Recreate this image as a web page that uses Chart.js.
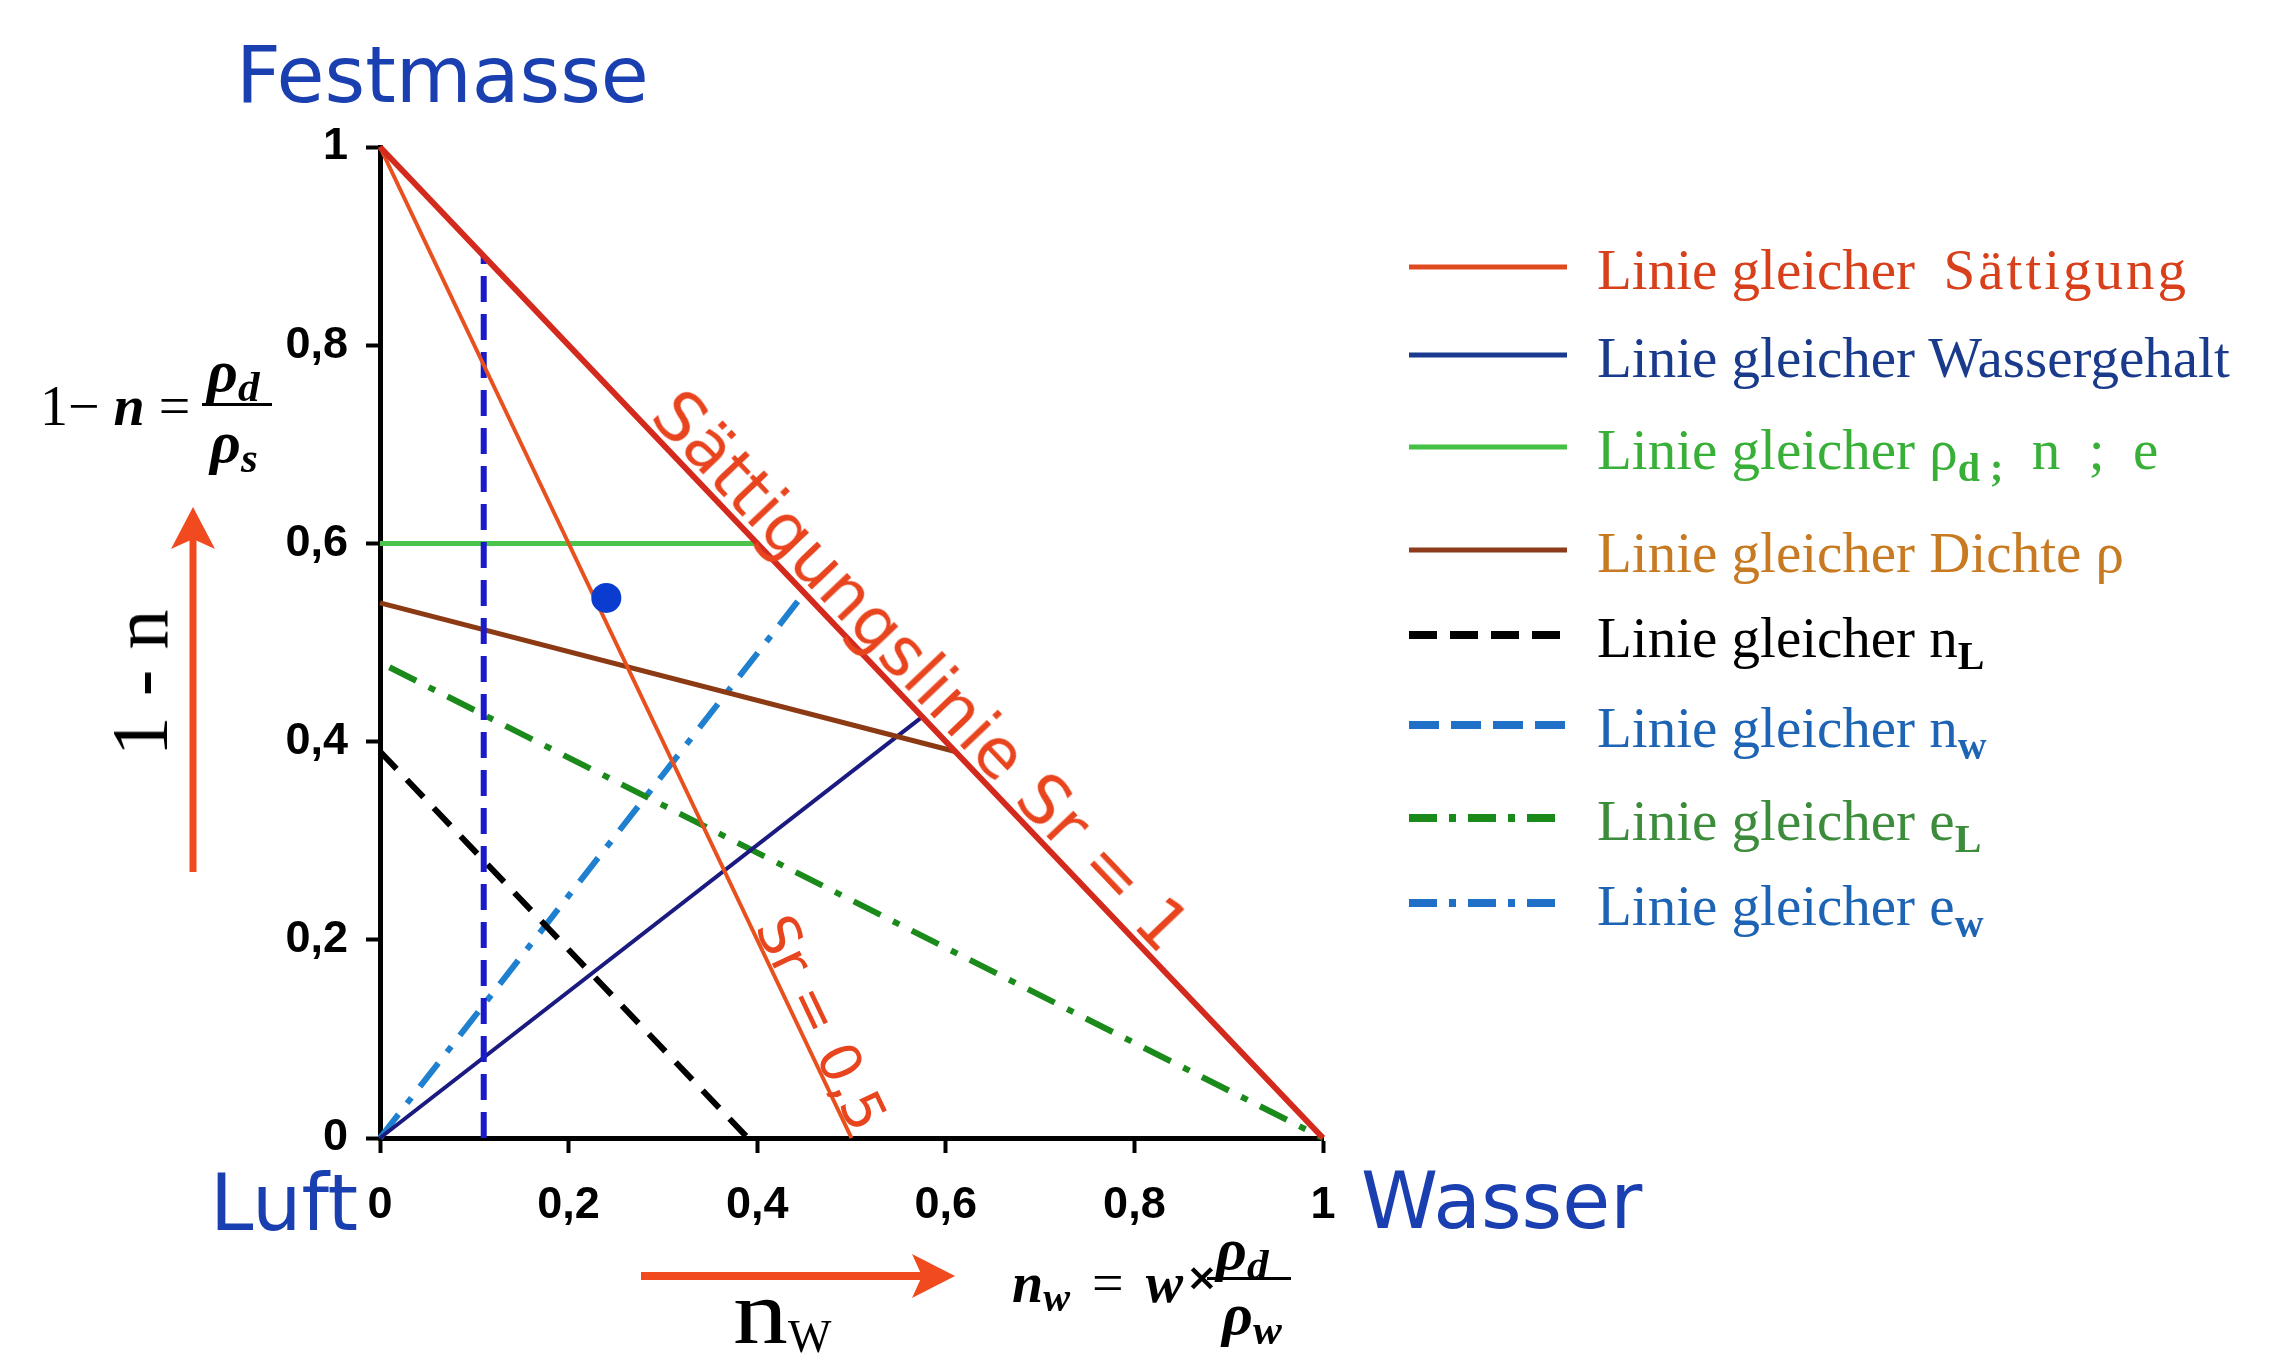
<!DOCTYPE html>
<html>
<head>
<meta charset="utf-8">
<script src="https://cdn.jsdelivr.net/npm/chart.js@4.4.0/dist/chart.umd.min.js"></script>
<style>
  html, body { margin: 0; padding: 0; background: #fff; }
  #wrap { position: relative; width: 2283px; height: 1359px; overflow: hidden; background: #fff; }
  #chart { position: absolute; left: 0; top: 0; }
  .ov { position: absolute; left: 0; top: 0; }
  .t { position: absolute; white-space: nowrap; line-height: 1; }
  .sans { font-family: 'DejaVu Sans', Verdana, sans-serif; }
  .serif { font-family: 'Liberation Serif', 'Times New Roman', serif; }
  .corner { font-size: 78px; color: #1a3fb0; }
  .math { font-size: 56px; color: #000; }
  .math i { font-weight: bold; }
  .math sub { font-size: 0.72em; vertical-align: -0.22em; line-height: 0; }
  .leg { font-size: 57px; }
  .leg sub { font-size: 0.7em; vertical-align: -0.3em; line-height: 0; font-weight: bold; }
  .wide { letter-spacing: 3px; }
  .onLine { font-family: 'DejaVu Sans', Verdana, sans-serif; color: #e8441e; }
</style>
</head>
<body>
<div id="wrap">
  <canvas id="chart" width="2283" height="1359"></canvas>

  <div class="t sans corner" style="left:236px; top:36px;">Festmasse</div>
  <div class="t sans corner" style="left:210px; top:1164px;">Luft</div>
  <div class="t sans corner" style="left:1361px; top:1162px;">Wasser</div>

  <!-- y formula -->
  <div class="t serif math" style="left:40px; top:378px;">1− <i>n</i> = </div>
  <div class="t serif math" style="left:207px; top:341px; font-size:60px;"><i>ρ<sub>d</sub></i></div>
  <div style="position:absolute; left:202px; top:403px; width:70px; height:3px; background:#000;"></div>
  <div class="t serif math" style="left:210px; top:412px; font-size:60px;"><i>ρ<sub>s</sub></i></div>
  <div class="t serif" style="left:140px; top:683px; font-size:80px; transform:translate(-50%,-50%) rotate(-90deg);">1 - n</div>

  <!-- x formula -->
  <div class="t serif math" style="left:1012px; top:1255px; word-spacing:8px;"><i>n<sub>w</sub></i> = <i>w</i></div>
  <div class="t sans" style="left:1186px; top:1258px; font-size:38px; font-weight:bold;">×</div>
  <div class="t serif math" style="left:1216px; top:1219px; font-size:60px;"><i>ρ<sub>d</sub></i></div>
  <div style="position:absolute; left:1207px; top:1277px; width:84px; height:3px; background:#000;"></div>
  <div class="t serif math" style="left:1222px; top:1284px; font-size:60px;"><i>ρ<sub>w</sub></i></div>
  <div class="t serif" style="left:733px; top:1268px; font-size:90px;"><span style="display:inline-block; transform:scaleX(1.22); transform-origin:left;">n</span><sub style="font-size:46px; vertical-align:-0.2em; line-height:0; margin-left:10px;">W</sub></div>

  <!-- labels on the saturation lines, placed by the plugin -->
  <div class="t onLine" id="labelSr1" style="font-size:68px;">Sättigungslinie Sr = 1</div>
  <div class="t onLine" id="labelSr05" style="font-size:56px;">Sr = 0,5</div>

  <svg class="ov" id="deco" width="2283" height="1359"></svg>
  <div id="legend"></div>
</div>

<script>
// ---- data ----
const tickLabels = ['0', '0,2', '0,4', '0,6', '0,8', '1'];

const sr1X = [0, 1], sr1Y = [1, 0];            // Sättigungslinie Sr = 1
const sr05X = [0, 0.5], sr05Y = [1, 0];        // Sr = 0,5
const nwX = [0.11, 0.11], nwY = [0, 0.89];     // gleicher n_w
const rhoDX = [0, 0.4], rhoDY = [0.6, 0.6];    // gleicher rho_d ; n ; e
const rhoX = [0, 0.61], rhoY = [0.54, 0.39];   // gleicher Dichte rho
const wX = [0, 0.575], wY = [0, 0.425];        // gleicher Wassergehalt
const nLX = [0, 0.39], nLY = [0.39, 0];        // gleicher n_L
const eLX = [0.01, 1], eLY = [0.475, 0];       // gleicher e_L
const ewX = [0, 0.45], ewY = [0, 0.55];        // gleicher e_w
const pointX = [0.24], pointY = [0.545];       // Bodenprobe

const legendLabels = [
    'Linie gleicher&nbsp; <span class="wide">Sättigung</span>',
    'Linie gleicher Wassergehalt',
    'Linie gleicher ρ<sub>d ;</sub>&nbsp; n&nbsp; ;&nbsp; e',
    'Linie gleicher Dichte ρ',
    'Linie gleicher n<sub>L</sub>',
    'Linie gleicher n<sub>w</sub>',
    'Linie gleicher e<sub>L</sub>',
    'Linie gleicher e<sub>w</sub>'
];
const legendLineColors = ['#e04a20', '#1a3a90', '#44c044', '#8c3c1c', '#000000', '#2070c8', '#1a8a1a', '#2070c8'];
const legendTextColors = ['#d8401c', '#1a3a8c', '#38b038', '#c87a22', '#000000', '#1e64b4', '#3c8c3c', '#1e64b4'];
const legendDash = ['', '', '', '', '28 13', '30 12', '28 12 7 12', '28 12 7 12'];

// ---- layout ----
const legendRowY = [267, 355, 447, 550, 635, 725, 818, 903];

(function() {
    "use strict";

    let svg = document.getElementById('deco'),
        legend = document.getElementById('legend'),
        ns = 'http://www.w3.org/2000/svg';

    function svgEl(tag, attrs) {
        let el = document.createElementNS(ns, tag);
        Object.keys(attrs).forEach(function(k) { el.setAttribute(k, attrs[k]); });
        svg.appendChild(el);
        return el;
    }

    // axis arrows
    svgEl('line', { x1: 193, y1: 872, x2: 193, y2: 530, stroke: '#f04a1e', 'stroke-width': 7 });
    svgEl('polygon', { points: '193,507 171,549 193,539 215,549', fill: '#f04a1e' });
    svgEl('line', { x1: 641, y1: 1276, x2: 930, y2: 1276, stroke: '#f04a1e', 'stroke-width': 8 });
    svgEl('polygon', { points: '955,1276 912,1254 922,1276 912,1298', fill: '#f04a1e' });

    // legend
    legendLabels.forEach(function(label, i) {
        let y = legendRowY[i],
            dashed = legendDash[i] !== '';
        let attrs = { x1: 1409, y1: y, x2: 1567, y2: y, stroke: legendLineColors[i], 'stroke-width': dashed ? 8 : 5 };
        if (dashed) attrs['stroke-dasharray'] = legendDash[i];
        svgEl('line', attrs);
        let div = document.createElement('div');
        div.className = 't serif leg';
        div.style.left = '1597px';
        div.style.top = (y + 22 - 48) + 'px';
        div.style.color = legendTextColors[i];
        div.innerHTML = label;
        legend.appendChild(div);
    });

    function pts(xs, ys) {
        return xs.map(function(x, i) { return { x: x, y: ys[i] }; });
    }

    function line(xs, ys, color, width, dash) {
        return {
            data: pts(xs, ys),
            showLine: true,
            borderColor: color,
            borderWidth: width,
            borderDash: dash || [],
            pointRadius: 0,
            fill: false,
            clip: false
        };
    }

    const lineLabels = {
        id: 'lineLabels',
        afterDraw: function(chart) {
            const xs = chart.scales.x, ys = chart.scales.y;
            function place(id, lx, ly, t, off) {
                let x0 = xs.getPixelForValue(lx[0]), y0 = ys.getPixelForValue(ly[0]),
                    x1 = xs.getPixelForValue(lx[1]), y1 = ys.getPixelForValue(ly[1]),
                    ang = Math.atan2(y1 - y0, x1 - x0),
                    cx = x0 + (x1 - x0) * t + Math.sin(ang) * off,
                    cy = y0 + (y1 - y0) * t - Math.cos(ang) * off,
                    el = document.getElementById(id);
                el.style.left = cx + 'px';
                el.style.top = cy + 'px';
                el.style.transform = 'translate(-50%,-50%) rotate(' + ang + 'rad)';
            }
            place('labelSr1', sr1X, sr1Y, 0.55, 31);
            place('labelSr05', sr05X, sr05Y, 0.893, 22);
        }
    };

    const tickFont = { family: "'Liberation Sans', Arial, sans-serif", size: 45, weight: 'bold' };

    new Chart(document.getElementById('chart'), {
        type: 'scatter',
        data: {
            datasets: [
                {
                    data: pts(pointX, pointY),
                    pointRadius: 15,
                    pointBackgroundColor: '#0a3cd0',
                    pointBorderWidth: 0,
                    clip: false
                },
                line(sr1X, sr1Y, '#d42a1e', 6),
                line(sr05X, sr05Y, '#e8501e', 4),
                line(nwX, nwY, '#1a1ac8', 6, [26, 12]),
                line(rhoDX, rhoDY, '#4cc44c', 5),
                line(rhoX, rhoY, '#8b3a14', 5),
                line(wX, wY, '#1a1a80', 4),
                line(nLX, nLY, '#000000', 6, [24, 15]),
                line(eLX, eLY, '#1a8a1a', 6, [30, 14, 7, 14]),
                line(ewX, ewY, '#2080d0', 6, [30, 14, 7, 14])
            ]
        },
        options: {
            responsive: false,
            devicePixelRatio: 1,
            animation: false,
            layout: { padding: { left: 0, top: 147, right: 960, bottom: 111 } },
            plugins: { legend: { display: false }, tooltip: { enabled: false } },
            scales: {
                x: {
                    type: 'linear',
                    min: 0,
                    max: 1,
                    afterFit: function(s) { s.height = 110; },
                    ticks: {
                        stepSize: 0.2,
                        padding: 26,
                        color: '#000',
                        font: tickFont,
                        maxRotation: 0,
                        callback: function(v) { return tickLabels[Math.round(v * 5)]; }
                    },
                    grid: { drawOnChartArea: false, drawTicks: true, tickLength: 15, tickWidth: 4, tickColor: '#000' },
                    border: { color: '#000', width: 5 }
                },
                y: {
                    type: 'linear',
                    min: 0,
                    max: 1,
                    afterFit: function(s) { s.width = 380; },
                    ticks: {
                        stepSize: 0.2,
                        padding: 18,
                        color: '#000',
                        font: tickFont,
                        callback: function(v) { return tickLabels[Math.round(v * 5)]; }
                    },
                    grid: { drawOnChartArea: false, drawTicks: true, tickLength: 14, tickWidth: 4, tickColor: '#000' },
                    border: { color: '#000', width: 5 }
                }
            }
        },
        plugins: [lineLabels]
    });
})();
</script>
</body>
</html>
